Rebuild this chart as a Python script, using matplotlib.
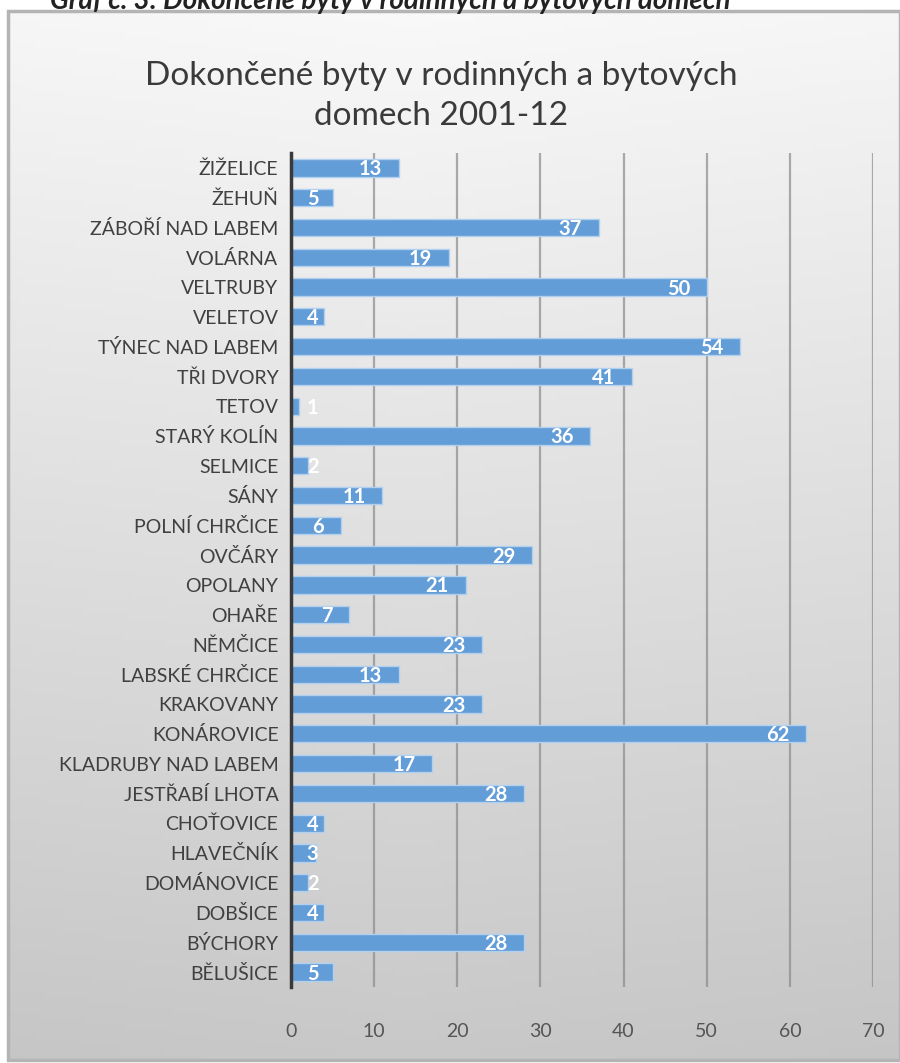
import matplotlib
matplotlib.use('Agg')
import matplotlib.pyplot as plt
from matplotlib.patches import Rectangle
import numpy as np

plt.rcParams['font.family'] = ['Lato', 'DejaVu Sans']

# data, top to bottom as in the chart
obce = ['ŽIŽELICE', 'ŽEHUŇ', 'ZÁBOŘÍ NAD LABEM', 'VOLÁRNA', 'VELTRUBY', 'VELETOV',
        'TÝNEC NAD LABEM', 'TŘI DVORY', 'TETOV', 'STARÝ KOLÍN', 'SELMICE', 'SÁNY',
        'POLNÍ CHRČICE', 'OVČÁRY', 'OPOLANY', 'OHAŘE', 'NĚMČICE', 'LABSKÉ CHRČICE',
        'KRAKOVANY', 'KONÁROVICE', 'KLADRUBY NAD LABEM', 'JESTŘABÍ LHOTA',
        'CHOŤOVICE', 'HLAVEČNÍK', 'DOMÁNOVICE', 'DOBŠICE', 'BÝCHORY', 'BĚLUŠICE']
byty = [13, 5, 37, 19, 50, 4, 54, 41, 1, 36, 2, 11, 6, 29, 21, 7, 23, 13,
        23, 62, 17, 28, 4, 3, 2, 4, 28, 5]
x_ticks = [0, 10, 20, 30, 40, 50, 60, 70]

title = 'Dokončené byty v rodinných a bytových\ndomech 2001-12'
heading = 'Graf č. 3: Dokončené byty v rodinných a bytových domech'

W, H = 900, 1063
fig = plt.figure(figsize=(W / 100, H / 100), dpi=100)
fig.patch.set_facecolor('white')

# gradient panel behind the chart
bg = fig.add_axes([8 / W, 3 / H, 1 - 8 / W, 1 - 14 / H])
bg.set_axis_off()
yy, xx = np.mgrid[0:1:200j, 0:1:200j]
g = 0.975 - 0.19 * yy - 0.02 * np.abs(xx - 0.45)
bg.imshow(np.dstack([g, g, g]), aspect='auto', extent=[0, 1, 0, 1], origin='upper')
bg.add_patch(Rectangle((0, 0), 1, 1, transform=bg.transAxes, fill=False,
                       edgecolor='#b4b4b4', linewidth=2.5, clip_on=False))

# heading of the page, cut at the top edge as in the scan
fig.text(50 / W, 1 - 1 / H, heading, fontsize=20, fontweight='bold', style='italic',
         ha='left', va='center', color='#222222')

fig.text(0.49, 1 - 96 / H, title, fontsize=24, ha='center', va='center',
         color='#3a3a3a', linespacing=1.4)

ax = fig.add_axes([291 / W, 1 - 987 / H, (873 - 291) / W, (987 - 153) / H])
ax.patch.set_alpha(0)

pos = np.arange(len(obce))
ax.barh(pos, byty, height=0.58, color='#639dd7', edgecolor='#b0d0f0',
        linewidth=1.0, zorder=2)
ax.set_ylim(len(obce) - 0.5, -0.5)
ax.set_xlim(0, 70)

for p, v in zip(pos, byty):
    ax.text(max(v - 2.0, 3.3), p + 0.05, str(v), ha='right', va='center',
            color='white', fontsize=14.5, fontweight='bold', zorder=4)

ax.set_xticks(x_ticks)
ax.grid(axis='x', color='#8a8a8a', linewidth=1.6, alpha=0.7, zorder=3)
ax.set_yticks(pos)
ax.set_yticklabels(obce, fontsize=14, color='#404040')
ax.tick_params(axis='y', length=0, pad=9)
ax.tick_params(axis='x', length=0, pad=26, labelsize=14, labelcolor='#555555')
for s in ['top', 'right', 'bottom']:
    ax.spines[s].set_visible(False)
ax.spines['left'].set_color('#3a3a3a')
ax.spines['left'].set_linewidth(2.5)
ax.spines['left'].set_zorder(5)

fig.savefig('out.png', dpi=100)
